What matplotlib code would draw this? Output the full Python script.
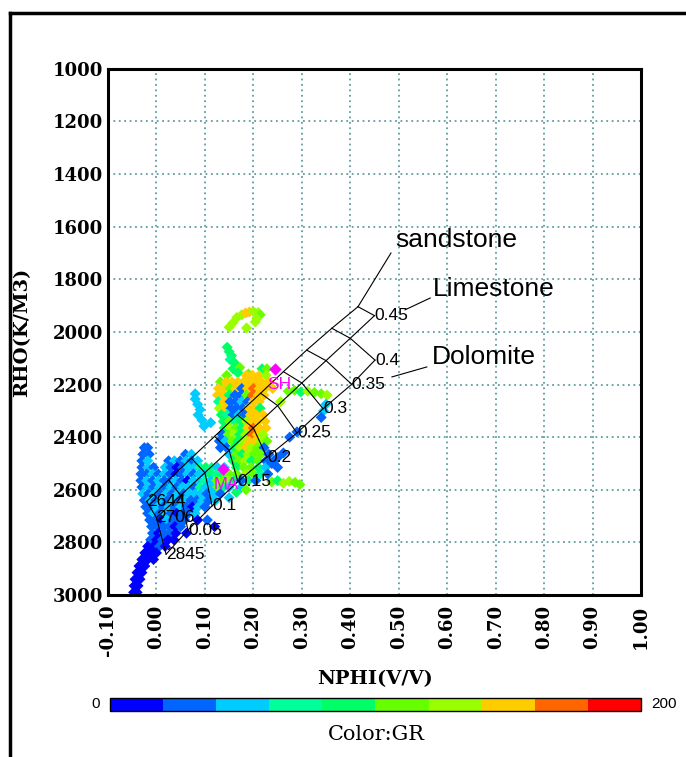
import matplotlib.pyplot as plt
from matplotlib.colors import ListedColormap, BoundaryNorm
from matplotlib.lines import Line2D
import matplotlib as mpl

# GR colour classes, 10 bins from 0 to 200
gr_colors = ['#0000ff', '#0066ff', '#00ccff', '#00ff99', '#00ff66',
             '#66ff00', '#99ff00', '#ffcc00', '#ff6600', '#ff0000']
gr_bounds = [0, 20, 40, 60, 80, 100, 120, 140, 160, 180, 200]

# axis ticks
x_ticks = [-0.1, 0.0, 0.1, 0.2, 0.3, 0.4, 0.5, 0.6, 0.7, 0.8, 0.9, 1.0]
x_labels = ['-0.10', '0.00', '0.10', '0.20', '0.30', '0.40', '0.50',
            '0.60', '0.70', '0.80', '0.90', '1.00']
y_ticks = [1000, 1200, 1400, 1600, 1800, 2000, 2200, 2400, 2600, 2800, 3000]

# lithology lines, porosity 0 -> 0.45 step 0.05
sand_nphi = [-0.020, 0.025, 0.072, 0.120, 0.167, 0.215, 0.262, 0.310, 0.362, 0.416]
sand_rhob = [2644, 2562, 2480, 2397, 2315, 2233, 2151, 2069, 1986, 1904]
lime_nphi = [0.00, 0.05, 0.10, 0.15, 0.20, 0.25, 0.30, 0.35, 0.40, 0.45]
lime_rhob = [2706, 2621, 2535, 2450, 2365, 2280, 2194, 2109, 2024, 1938]
dolo_nphi = [0.020, 0.065, 0.115, 0.168, 0.228, 0.290, 0.344, 0.403, 0.451]
dolo_rhob = [2845, 2753, 2661, 2569, 2476, 2384, 2292, 2199, 2107]
dolo_labels = ['2845', '0.05', '0.1', '0.15', '0.2', '0.25', '0.3', '0.35', '0.4']

# shale / matrix points
sh_point = (0.245, 2140)
ma_point = (0.137, 2521)

# crossplot points (NPHI, RHOB, GR)
arc = [(0.150, 1982, 120), (0.158, 1965, 125), (0.166, 1945, 128), (0.176, 1935, 135),
       (0.184, 1928, 150), (0.192, 1924, 145), (0.200, 1922, 125), (0.210, 1926, 120),
       (0.214, 1935, 118), (0.207, 1950, 125), (0.204, 1962, 120), (0.186, 1985, 125)]

streak = [(0.146, 2058, 90), (0.150, 2075, 85), (0.155, 2090, 95), (0.152, 2105, 70),
          (0.160, 2115, 88), (0.165, 2130, 92), (0.158, 2140, 85), (0.172, 2135, 110),
          (0.168, 2155, 90), (0.190, 2160, 100)]

upper = [(0.218, 2140, 90), (0.228, 2140, 100),
         (0.145, 2165, 110), (0.185, 2165, 145), (0.198, 2165, 140), (0.212, 2165, 150), (0.226, 2165, 120),
         (0.132, 2190, 100), (0.144, 2190, 150), (0.156, 2190, 140), (0.168, 2190, 155), (0.180, 2190, 150),
         (0.192, 2190, 145), (0.204, 2190, 150), (0.216, 2190, 140), (0.232, 2190, 150),
         (0.128, 2215, 145), (0.140, 2215, 150), (0.152, 2215, 100), (0.164, 2215, 150), (0.176, 2215, 30),
         (0.188, 2215, 150), (0.200, 2215, 165), (0.212, 2215, 150), (0.224, 2215, 145), (0.240, 2215, 150),
         (0.126, 2240, 150), (0.138, 2240, 140), (0.150, 2240, 90), (0.162, 2240, 30), (0.174, 2240, 25),
         (0.186, 2240, 100), (0.198, 2240, 175), (0.210, 2240, 150), (0.222, 2240, 140),
         (0.128, 2265, 60), (0.140, 2265, 150), (0.152, 2265, 35), (0.164, 2265, 25), (0.176, 2265, 50),
         (0.188, 2265, 30), (0.200, 2265, 150), (0.212, 2265, 145), (0.256, 2265, 125),
         (0.130, 2290, 120), (0.142, 2290, 145), (0.154, 2290, 30), (0.166, 2290, 20), (0.178, 2290, 35),
         (0.190, 2290, 150), (0.202, 2290, 140), (0.214, 2290, 95),
         (0.134, 2315, 90), (0.146, 2315, 60), (0.158, 2315, 30), (0.170, 2315, 40), (0.182, 2315, 25),
         (0.194, 2315, 145), (0.206, 2315, 150), (0.220, 2315, 140),
         (0.138, 2340, 95), (0.150, 2340, 110), (0.162, 2340, 70), (0.174, 2340, 85), (0.186, 2340, 130),
         (0.198, 2340, 150), (0.210, 2340, 155), (0.224, 2340, 150),
         (0.140, 2365, 85), (0.152, 2365, 120), (0.164, 2365, 110), (0.176, 2365, 90), (0.188, 2365, 150),
         (0.200, 2365, 165), (0.212, 2365, 150), (0.226, 2365, 145),
         (0.136, 2390, 30), (0.148, 2390, 100), (0.160, 2390, 125), (0.172, 2390, 90), (0.184, 2390, 130),
         (0.196, 2390, 160), (0.208, 2390, 150), (0.220, 2390, 120),
         (0.130, 2415, 25), (0.142, 2415, 40), (0.156, 2415, 110), (0.168, 2415, 95), (0.180, 2415, 130),
         (0.192, 2415, 145), (0.204, 2415, 150), (0.216, 2415, 130), (0.228, 2415, 110),
         (0.132, 2440, 30), (0.145, 2440, 20), (0.160, 2440, 90), (0.172, 2440, 120), (0.184, 2440, 140),
         (0.196, 2440, 125), (0.208, 2440, 115), (0.222, 2440, 30),
         (0.150, 2465, 50), (0.165, 2465, 110), (0.177, 2465, 85), (0.189, 2465, 120), (0.201, 2465, 100),
         (0.215, 2465, 105), (0.232, 2465, 25),
         (0.158, 2490, 95), (0.170, 2490, 110), (0.182, 2490, 120), (0.196, 2490, 90), (0.210, 2490, 110),
         (0.226, 2490, 30), (0.242, 2490, 20),
         (0.165, 2515, 95), (0.180, 2515, 100), (0.195, 2515, 115), (0.210, 2515, 90), (0.225, 2515, 45),
         (0.250, 2515, 25),
         (0.185, 2540, 120), (0.200, 2540, 105), (0.215, 2540, 60), (0.230, 2540, 20),
         (0.190, 2565, 85), (0.205, 2565, 30), (0.175, 2590, 40),
         (0.185, 2600, 110), (0.165, 2610, 95), (0.150, 2630, 50)]

cyan_col = [(0.080, 2235, 45), (0.080, 2255, 50), (0.085, 2275, 50), (0.090, 2295, 55),
            (0.086, 2315, 45), (0.094, 2335, 50), (0.098, 2358, 55), (0.112, 2345, 45)]

lower = [(-0.025, 2440, 30), (-0.018, 2440, 25),
         (-0.028, 2465, 30), (-0.015, 2465, 35), (0.060, 2465, 30), (0.072, 2465, 45),
         (-0.030, 2490, 25), (-0.018, 2490, 40), (0.025, 2490, 30), (0.037, 2490, 50), (0.049, 2490, 30),
         (0.061, 2490, 45), (0.073, 2490, 25), (0.085, 2490, 50),
         (-0.030, 2515, 30), (-0.018, 2515, 45), (-0.006, 2515, 30), (0.018, 2515, 50), (0.030, 2515, 35),
         (0.042, 2515, 10), (0.054, 2515, 30), (0.066, 2515, 50), (0.078, 2515, 45), (0.090, 2515, 60),
         (0.102, 2515, 90), (0.114, 2515, 70), (0.126, 2515, 50), (0.140, 2515, 45),
         (-0.032, 2540, 25), (-0.020, 2540, 35), (-0.008, 2540, 50), (0.004, 2540, 30), (0.016, 2540, 45),
         (0.028, 2540, 30), (0.040, 2540, 15), (0.052, 2540, 35), (0.064, 2540, 50), (0.076, 2540, 30),
         (0.088, 2540, 55), (0.100, 2540, 40), (0.112, 2540, 80), (0.124, 2540, 60), (0.136, 2540, 95),
         (0.150, 2540, 110), (0.165, 2540, 100),
         (-0.032, 2565, 30), (-0.020, 2565, 45), (-0.008, 2565, 30), (0.004, 2565, 50), (0.016, 2565, 35),
         (0.028, 2565, 20), (0.040, 2565, 45), (0.052, 2565, 30), (0.064, 2565, 10), (0.076, 2565, 50),
         (0.088, 2565, 40), (0.100, 2565, 60), (0.112, 2565, 45), (0.124, 2565, 110), (0.136, 2565, 100),
         (0.148, 2565, 120), (0.160, 2565, 95), (0.175, 2565, 30),
         (-0.030, 2590, 35), (-0.018, 2590, 50), (-0.006, 2590, 30), (0.006, 2590, 45), (0.018, 2590, 25),
         (0.030, 2590, 50), (0.042, 2590, 35), (0.054, 2590, 55), (0.066, 2590, 40), (0.078, 2590, 30),
         (0.090, 2590, 60), (0.102, 2590, 45), (0.114, 2590, 55), (0.126, 2590, 100), (0.138, 2590, 85),
         (0.150, 2590, 40),
         (-0.028, 2615, 45), (-0.016, 2615, 30), (-0.004, 2615, 50), (0.008, 2615, 35), (0.020, 2615, 55),
         (0.032, 2615, 30), (0.044, 2615, 45), (0.056, 2615, 25), (0.068, 2615, 50), (0.080, 2615, 40),
         (0.092, 2615, 55), (0.104, 2615, 30), (0.118, 2615, 45), (0.132, 2615, 35),
         (-0.025, 2640, 30), (-0.013, 2640, 45), (-0.001, 2640, 25), (0.011, 2640, 50), (0.023, 2640, 35),
         (0.035, 2640, 45), (0.047, 2640, 30), (0.059, 2640, 50), (0.071, 2640, 35), (0.083, 2640, 20),
         (0.095, 2640, 45), (0.108, 2640, 30), (0.122, 2640, 40),
         (-0.022, 2665, 35), (-0.010, 2665, 25), (0.002, 2665, 45), (0.014, 2665, 30), (0.026, 2665, 50),
         (0.038, 2665, 20), (0.050, 2665, 45), (0.062, 2665, 30), (0.074, 2665, 15), (0.086, 2665, 40),
         (0.100, 2665, 25),
         (-0.018, 2690, 30), (-0.006, 2690, 40), (0.006, 2690, 20), (0.018, 2690, 45), (0.030, 2690, 30),
         (0.042, 2690, 10), (0.054, 2690, 35), (0.066, 2690, 25), (0.080, 2690, 40),
         (-0.014, 2715, 25), (-0.002, 2715, 35), (0.010, 2715, 15), (0.022, 2715, 40), (0.034, 2715, 30),
         (0.046, 2715, 20), (0.058, 2715, 30), (0.085, 2715, 10), (0.105, 2715, 20),
         (-0.010, 2740, 30), (0.002, 2740, 20), (0.014, 2740, 35), (0.026, 2740, 25), (0.038, 2740, 15),
         (0.050, 2740, 25), (0.120, 2740, 10),
         (-0.008, 2765, 25), (0.004, 2765, 15), (0.016, 2765, 30), (0.028, 2765, 20), (0.040, 2765, 10),
         (0.062, 2765, 5),
         (-0.012, 2790, 20), (0.000, 2790, 10), (0.012, 2790, 25), (0.024, 2790, 15), (0.036, 2790, 10),
         (-0.018, 2815, 15), (-0.006, 2815, 5), (0.006, 2815, 20), (0.018, 2815, 10),
         (-0.024, 2840, 10), (-0.012, 2840, 5), (0.000, 2840, 15),
         (-0.030, 2865, 5), (-0.018, 2865, 10), (-0.006, 2865, 5),
         (-0.036, 2890, 5), (-0.024, 2890, 10),
         (-0.040, 2915, 5), (-0.030, 2915, 5),
         (-0.044, 2940, 5), (-0.034, 2940, 10),
         (-0.046, 2965, 5), (-0.038, 2965, 5),
         (-0.047, 2990, 5), (-0.040, 2990, 5)]

right_side = [(0.238, 2570, 110), (0.250, 2565, 95), (0.262, 2575, 120), (0.274, 2568, 125),
              (0.286, 2572, 115), (0.296, 2580, 110),
              (0.238, 2500, 20), (0.250, 2478, 30), (0.262, 2460, 25),
              (0.272, 2225, 100), (0.285, 2222, 110), (0.298, 2228, 95), (0.312, 2225, 120),
              (0.326, 2230, 115), (0.340, 2235, 110), (0.352, 2240, 120),
              (0.350, 2275, 50), (0.345, 2300, 45), (0.340, 2325, 30),
              (0.275, 2400, 25), (0.290, 2380, 20)]

points = arc + streak + upper + cyan_col + lower + right_side
nphi = [p[0] for p in points]
rhob = [p[1] for p in points]
gr = [p[2] for p in points]

serif = 'DejaVu Serif'
sans = 'Liberation Sans'

fig = plt.figure(figsize=(6.86, 7.57), dpi=100)
ax = fig.add_axes([0.1574, 0.214, 0.777, 0.695])

cmap = ListedColormap(gr_colors)
norm = BoundaryNorm(gr_bounds, cmap.N)

ax.scatter(nphi, rhob, c=gr, cmap=cmap, norm=norm, marker='D', s=32,
           linewidths=0, zorder=2)

# lithology lines and porosity iso-lines
lk = dict(color='black', lw=0.8, zorder=3)
ax.plot(sand_nphi, sand_rhob, **lk)
ax.plot(lime_nphi, lime_rhob, **lk)
ax.plot(dolo_nphi, dolo_rhob, **lk)
for i in range(len(dolo_nphi)):
    ax.plot([sand_nphi[i], lime_nphi[i], dolo_nphi[i]],
            [sand_rhob[i], lime_rhob[i], dolo_rhob[i]], **lk)
ax.plot([sand_nphi[-1], lime_nphi[-1]], [sand_rhob[-1], lime_rhob[-1]], **lk)

# leader lines to the lithology names
ax.plot([sand_nphi[-1], 0.484], [sand_rhob[-1], 1700], **lk)
ax.plot([0.513, 0.565], [1916, 1871], **lk)
ax.plot([0.486, 0.558], [2171, 2133], **lk)

tk = dict(fontsize=12.5, family=sans, ha='left', va='center', zorder=4)
for xv, yv, lab in zip(dolo_nphi, dolo_rhob, dolo_labels):
    ax.text(xv, yv, lab, **tk)
ax.text(lime_nphi[-1], lime_rhob[-1], '0.45', **tk)
ax.text(sand_nphi[0], sand_rhob[0], '2644', **tk)
ax.text(lime_nphi[0], lime_rhob[0], '2706', **tk)

ax.text(0.492, 1650, 'sandstone', fontsize=19, family=sans, ha='left', va='center')
ax.text(0.571, 1836, 'Limestone', fontsize=19, family=sans, ha='left', va='center')
ax.text(0.569, 2095, 'Dolomite', fontsize=19, family=sans, ha='left', va='center')

# shale and matrix points
ax.scatter([sh_point[0], ma_point[0]], [sh_point[1], ma_point[1]], marker='D', s=40,
           color='#ff00ff', linewidths=0, zorder=5)
ax.text(0.228, 2200, 'SH', fontsize=12.5, family=sans, color='#ff00ff', ha='left', va='center', zorder=5)
ax.text(0.118, 2580, 'MA', fontsize=12, family=sans, color='#ff00ff', ha='left', va='center', zorder=5)

ax.set_xlim(-0.1, 1.0)
ax.set_ylim(3000, 1000)
ax.set_xticks(x_ticks)
ax.set_xticklabels(x_labels, rotation=90)
ax.set_yticks(y_ticks)
ax.grid(True, color='#5f9ea0', linestyle=(0, (1, 2)), linewidth=1.3)
ax.set_axisbelow(True)
ax.tick_params(length=0)
ax.tick_params(axis='x', pad=7)
ax.tick_params(axis='y', pad=3.5)
for lab in ax.get_xticklabels() + ax.get_yticklabels():
    lab.set_family(serif)
    lab.set_fontweight('bold')
    lab.set_fontsize(13)
for sp in ax.spines.values():
    sp.set_linewidth(2.2)

ax.set_xlabel('NPHI(V/V)', family=serif, fontweight='bold', fontsize=14)
ax.xaxis.set_label_coords(0.501, -0.143)
ax.set_ylabel('RHO(K/M3)', family=serif, fontweight='bold', fontsize=14, va='center')
ax.yaxis.set_label_coords(-0.161, 0.5)

# colour bar
cax = fig.add_axes([0.1603, 0.0608, 0.774, 0.0172])
cb = mpl.colorbar.ColorbarBase(cax, cmap=cmap, norm=norm, orientation='horizontal')
cb.set_ticks([])
cax.minorticks_off()
cax.tick_params(which='both', length=0, labelbottom=False)
cb.outline.set_linewidth(1.0)
fig.text(96 / 686, 1 - 704 / 757, '0', fontsize=11, family=sans, ha='center', va='center')
fig.text(651 / 686, 1 - 704 / 757, '200', fontsize=11, family=sans, ha='left', va='center')
fig.text(376 / 686, 1 - 735 / 757, 'Color:GR', fontsize=15, family=serif, ha='center', va='center')

# outer frame (left and top edges)
fig.add_artist(Line2D([10 / 686, 10 / 686], [0, 1 - 13 / 757], transform=fig.transFigure,
                      color='black', lw=2.5))
fig.add_artist(Line2D([10 / 686, 1], [1 - 13 / 757, 1 - 13 / 757], transform=fig.transFigure,
                      color='black', lw=2.5))

fig.savefig('out.png', dpi=100)
